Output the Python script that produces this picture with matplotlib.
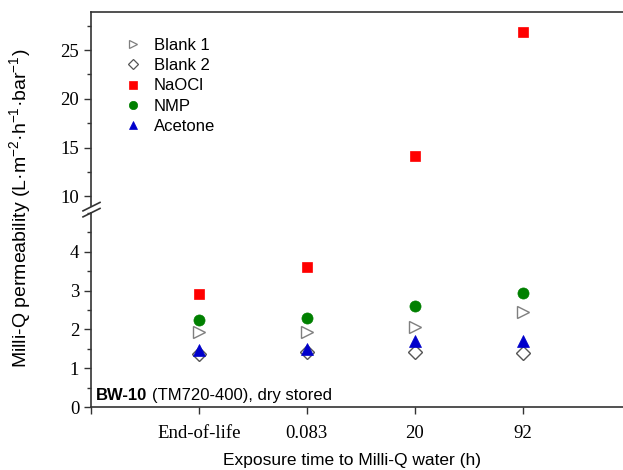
import matplotlib
matplotlib.use("Agg")
from matplotlib import pyplot as plt
from matplotlib.ticker import MultipleLocator, FixedLocator
from matplotlib.lines import Line2D

# data
categories = ["End-of-life", "0.083", "20", "92"]
blank1 = [1.93, 1.93, 2.07, 2.44]
blank2 = [1.37, 1.42, 1.42, 1.40]
naocl = [2.90, 3.60, 14.1, 26.8]
nmp = [2.25, 2.30, 2.60, 2.95]
acetone = [1.48, 1.50, 1.70, 1.70]

SERIF = "Liberation Serif"
SANS = "Liberation Sans"
plt.rcParams["mathtext.fontset"] = "custom"
plt.rcParams["mathtext.rm"] = SANS
plt.rcParams["mathtext.it"] = SANS + ":italic"
plt.rcParams["mathtext.bf"] = SANS + ":bold"

fig = plt.figure(figsize=(6.23, 4.70), dpi=100)
left, width = 91 / 623, 1 - 91 / 623
ax_top = fig.add_axes([left, 1 - 206 / 470, width, (206 - 12) / 470])
ax_bot = fig.add_axes([left, 1 - 407 / 470, width, (407 - 213) / 470])

xpos = list(range(1, len(categories) + 1))

series = [
    ("Blank 1", blank1, dict(marker=">", mfc="none", mec="#7f7f7f", ms=9, mew=1.0)),
    ("Blank 2", blank2, dict(marker="D", mfc="none", mec="#555555", ms=7, mew=1.0)),
    ("NaOCl", naocl, dict(marker="s", mfc="#ff0000", mec="#ff0000", ms=7.5, mew=0.5)),
    ("NMP", nmp, dict(marker="o", mfc="#008000", mec="#008000", ms=8, mew=0.5)),
    ("Acetone", acetone, dict(marker="^", mfc="#0000cc", mec="#0000cc", ms=8.5, mew=0.5)),
]

for ax in (ax_top, ax_bot):
    for name, vals, style in series:
        ax.plot(xpos, vals, linestyle="none", label=name, **style)
    ax.set_xlim(0, 4.93)
    ax.spines["right"].set_visible(False)
    for sp in ax.spines.values():
        sp.set_linewidth(1.2)
        sp.set_color("#333333")
    ax.tick_params(axis="y", which="major", direction="out", length=5, width=1,
                   labelsize=13.5, color="#333333")
    ax.tick_params(axis="y", which="minor", direction="out", length=3, width=1, color="#333333")

ax_top.set_ylim(9, 28.9)
ax_top.yaxis.set_major_locator(FixedLocator([10, 15, 20, 25]))
ax_top.yaxis.set_minor_locator(MultipleLocator(2.5))
ax_top.spines["bottom"].set_visible(False)
ax_top.tick_params(axis="x", which="both", bottom=False, labelbottom=False)

ax_bot.set_ylim(0, 5)
ax_bot.yaxis.set_major_locator(FixedLocator([0, 1, 2, 3, 4]))
ax_bot.yaxis.set_minor_locator(MultipleLocator(0.5))
ax_bot.spines["top"].set_visible(False)
ax_bot.set_xticks([0] + xpos)
ax_bot.set_xticklabels([""] + categories)
ax_bot.tick_params(axis="x", direction="out", length=5, width=1, pad=8,
                   labelsize=13.5, color="#333333")
for lab in ax_bot.get_xticklabels():
    lab.set_fontfamily(SERIF)
for lab in ax_top.get_yticklabels() + ax_bot.get_yticklabels():
    lab.set_fontfamily(SERIF)

# break marks on the left spine
for y0 in (209, 215):
    y = 1 - y0 / 470
    fig.add_artist(Line2D([83 / 623, 100 / 623], [y - 0.004, y + 0.014],
                          color="#333333", lw=1.2, transform=fig.transFigure))

legend_styles = [
    dict(marker=">", mfc="none", mec="#7f7f7f", ms=6, mew=0.9),
    dict(marker="D", mfc="none", mec="#555555", ms=5, mew=0.9),
    dict(marker="s", mfc="#ff0000", mec="#ff0000", ms=5.5, mew=0.5),
    dict(marker="o", mfc="#008000", mec="#008000", ms=6, mew=0.5),
    dict(marker="^", mfc="#0000cc", mec="#0000cc", ms=6, mew=0.5),
]
handles = [Line2D([], [], linestyle="none", **style) for style in legend_styles]
ax_top.legend(handles, [s[0] for s in series], loc="upper left",
              bbox_to_anchor=(0.035, 0.945), frameon=False, handletextpad=0.75,
              labelspacing=0.32, prop={"family": SANS, "size": 12}, handlelength=1.0)

bw = ax_bot.text(0.01, 0.02, "BW-10", transform=ax_bot.transAxes, fontfamily=SANS,
                 fontweight="bold", fontsize=12, ha="left", va="bottom")
ax_bot.annotate("(TM720-400), dry stored", xy=(1, 0), xycoords=bw,
                xytext=(4.5, 0), textcoords="offset pixels",
                fontfamily=SANS, fontsize=12, ha="left", va="bottom")

fig.text(352 / 623, 1 - 461 / 470, "Exposure time to Milli-Q water (h)",
         fontfamily=SANS, fontsize=12.5, ha="center", va="center")
fig.text(20 / 623, 1 - 208 / 470,
         "Milli-Q permeability (L\u00b7m$^{-2}$\u00b7h$^{-1}$\u00b7bar$^{-1}$)",
         fontfamily=SANS, fontsize=14, ha="center", va="center", rotation=90)

plt.savefig("out.png", dpi=100)
